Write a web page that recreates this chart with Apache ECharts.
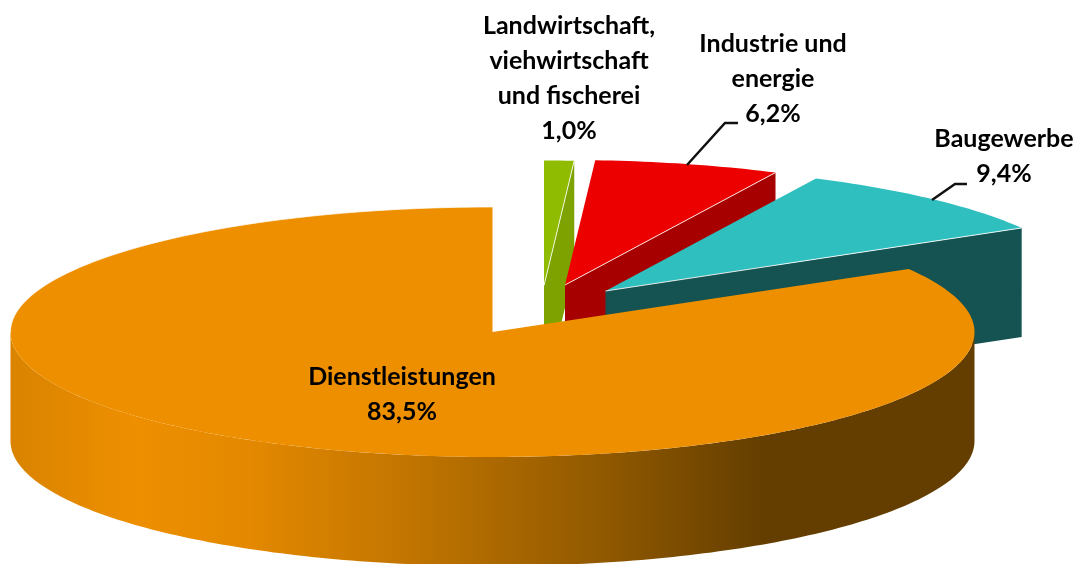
<!DOCTYPE html>
<html>
<head>
<meta charset="utf-8">
<title>Sektoren</title>
<style>
	html, body { margin: 0; padding: 0; background: #fff; }
	#main { width: 1087px; height: 564px; }
</style>
<script src="https://cdn.jsdelivr.net/npm/echarts@6/dist/echarts.min.js"></script>
</head>
<body>
<div id="main"></div>
<script>
	// data
	const sectors = ['Landwirtschaft,\nviehwirtschaft\nund fischerei', 'Industrie und\nenergie', 'Baugewerbe', 'Dienstleistungen']
	const shares = [1.0, 6.2, 9.4, 83.5]

	// pie layout: ellipse of the top face and height of the wall
	const cx = 492.5, cy = 332, rx = 482, ry = 125, depth = 109
	const explode = [[51.5, -46.5], [72.5, -47], [113, -41], [0, 0]]
	const topColors = ['#8fbc00', '#ec0000', '#2fbfbf', '#ee8f00']
	const wallColors = ['#7ea300', '#a60000', '#155352', '#643e00']
	const labelFont = 'Lato'
	const labelSize = 25
	const labelPos = [[569, 78], [773, 79], [1004, 156], [402, 394]]
	const leaders = [null, [[687, 165], [725, 123], [738, 123]], [[932, 200], [955, 184], [967, 184]], null]

	const total = shares.reduce((a, b) => a + b, 0)

	const pt = (deg, off, drop) => {
		const t = deg * Math.PI / 180
		return [cx + off[0] + rx * Math.sin(t), cy + off[1] - ry * Math.cos(t) + (drop || 0)]
	}

	const arc = (from, to, off, drop) => {
		const pts = []
		const n = Math.max(2, Math.ceil(Math.abs(to - from)))
		for (let i = 0; i <= n; i++) {
			pts.push(pt(from + (to - from) * i / n, off, drop))
		}
		return pts
	}

	const wallGradient = new echarts.graphic.LinearGradient(0, 0, 1, 0, [
		{ offset: 0, color: '#d98300' },
		{ offset: 0.13, color: '#ee8f00' },
		{ offset: 0.25, color: '#e38800' },
		{ offset: 0.42, color: '#c07400' },
		{ offset: 0.62, color: '#8f5800' },
		{ offset: 0.78, color: '#643e00' },
		{ offset: 1, color: '#643e00' }
	])

	const renderSlice = (params, api) => {
		const i = params.dataIndex
		const before = shares.slice(0, i).reduce((a, b) => a + b, 0)
		const from = before / total * 360
		const to = (before + api.value(0)) / total * 360
		const off = explode[i]
		const apex = [cx + off[0], cy + off[1]]
		const children = []

		if (i < 3) {
			// exploded slice: only the cut side at the end angle can be seen
			const end = pt(to, off)
			children.push({
				type: 'polygon',
				shape: { points: [apex, end, [end[0], end[1] + depth], [apex[0], apex[1] + depth]] },
				style: { fill: wallColors[i] }
			})
		} else {
			// big slice: the round wall in front
			const front = arc(90, 270, off).concat(arc(270, 90, off, depth))
			children.push({
				type: 'polygon',
				shape: { points: front },
				style: { fill: wallGradient }
			})
		}

		children.push({
			type: 'polygon',
			shape: { points: [apex].concat(arc(from, to, off)) },
			style: { fill: topColors[i] }
		})

		// thin light edge on top of the walls
		children.push({
			type: 'polyline',
			shape: { points: i < 3 ? [apex, pt(to, off)] : arc(to, 270, off) },
			style: { fill: null, stroke: '#ffffff', lineWidth: 1, opacity: i < 3 ? 0.85 : 0.7 }
		})

		if (leaders[i]) {
			children.push({
				type: 'polyline',
				shape: { points: leaders[i] },
				style: { fill: null, stroke: '#111111', lineWidth: 2.5 }
			})
		}

		children.push({
			type: 'text',
			style: {
				x: labelPos[i][0],
				y: labelPos[i][1],
				text: sectors[i] + '\n' + api.value(0).toFixed(1).replace('.', ',') + '%',
				fill: '#000',
				font: 'bold ' + labelSize + 'px ' + labelFont,
				lineHeight: 35,
				align: 'center',
				verticalAlign: 'middle'
			}
		})

		return { type: 'group', children: children }
	}

	const myChart = echarts.init(document.getElementById('main'))
	myChart.setOption({
		animation: false,
		backgroundColor: '#ffffff',
		series: [{
			type: 'custom',
			coordinateSystem: 'none',
			renderItem: renderSlice,
			data: shares.map(v => [v])
		}]
	})
</script>
</body>
</html>
